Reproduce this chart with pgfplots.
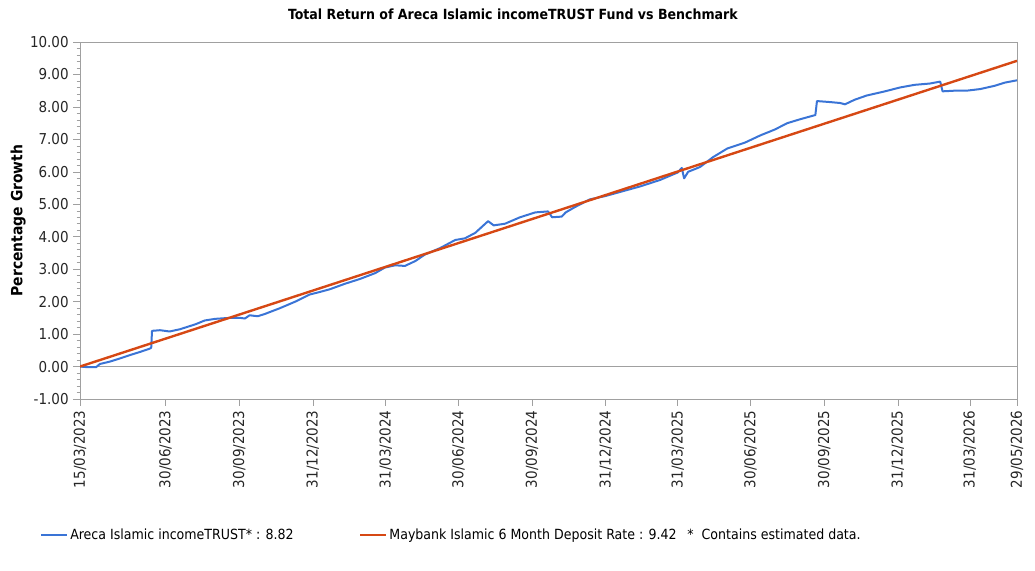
\documentclass[border=0pt]{standalone}
\usepackage{fontspec}
\setmainfont{DejaVu Sans Condensed}
\usepackage{pgfplots}
\pgfplotsset{compat=1.18}
\definecolor{fundblue}{RGB}{58,116,214}
\definecolor{benchred}{RGB}{214,72,20}
\definecolor{axgray}{RGB}{160,160,160}
\begin{document}
\begin{tikzpicture}
\path[use as bounding box] (0,0) rectangle (776.25pt,-428.25pt);
\begin{axis}[
  at={(60pt,-299.25pt)}, anchor=south west,
  scale only axis, width=702.75pt, height=267.75pt,
  xmin=0, xmax=1171, ymin=-1, ymax=10,
  axis line style={axgray},
  every tick/.style={axgray},
  tick align=outside,
  xtick pos=bottom, ytick pos=left,
  major tick length=5pt, minor tick length=2.5pt,
  ytick={-1,0,...,10},
  minor y tick num=4,
  xtick={0,107,199,291,382,473,565,657,747,838,930,1022,1112,1171},
  xticklabels={15/03/2023,30/06/2023,30/09/2023,31/12/2023,31/03/2024,30/06/2024,30/09/2024,31/12/2024,31/03/2025,30/06/2025,30/09/2025,31/12/2025,31/03/2026,29/05/2026},
  x tick label style={rotate=90, anchor=east, font=\fontsize{11.25}{13}\selectfont, text=black!85},
  y tick label style={font=\fontsize{11.25}{13}\selectfont, text=black!85},
  /pgf/number format/assume math mode=true,
  yticklabel={\pgfmathprintnumber[fixed,fixed zerofill,precision=2]{\tick}},
  title={Total Return of Areca Islamic incomeTRUST Fund vs Benchmark},
  every axis title/.style={at={(axis description cs:0.462,1.078)}, anchor=center, font=\bfseries\fontsize{10.5}{12}\selectfont},
  ylabel={Percentage Growth},
  every axis y label/.style={at={(axis description cs:-0.066,0.5)}, rotate=90, anchor=center, font=\bfseries\fontsize{11.6}{13}\selectfont},
  legend columns=-1,
  legend style={at={(axis description cs:-0.0427,-0.381)}, anchor=west, draw=none, fill=none,
    font=\fontsize{10.5}{12}\selectfont, inner sep=0pt,
    /tikz/every even column/.append style={column sep=47pt}},
  legend image code/.code={\draw[#1] (0pt,0pt) -- (19pt,0pt);},
]
\addplot[axgray, line width=0.8pt, forget plot] coordinates {(0,0) (1171,0)};
\addplot[fundblue, line width=1.5pt, line join=round] coordinates {
(0,0.00) (10,-0.02) (20,-0.02) (25,0.08) (37,0.15) (50,0.25) (62,0.35) (75,0.45) (87,0.55) (89,0.58)
(90,1.10) (100,1.12) (112,1.08) (125,1.15) (144,1.30) (156,1.42) (169,1.47) (187,1.50) (200,1.50)
(206,1.48) (212,1.58) (222,1.55) (231,1.62) (250,1.80) (269,2.00) (287,2.22) (300,2.30) (312,2.38)
(331,2.55) (350,2.70) (369,2.88) (381,3.05) (394,3.12) (406,3.10) (419,3.25) (431,3.45) (450,3.65)
(469,3.90) (481,3.95) (494,4.12) (502,4.30) (510,4.48) (517,4.35) (531,4.40) (550,4.60) (569,4.75)
(585,4.78) (590,4.60) (602,4.62) (607,4.75) (619,4.92) (637,5.15) (656,5.25) (675,5.38) (700,5.55)
(725,5.75) (747,5.98) (752,6.12) (755,5.80) (760,6.00) (775,6.15) (791,6.45) (809,6.72) (831,6.90)
(850,7.12) (868,7.30) (884,7.50) (900,7.62) (919,7.75) (921,8.18) (937,8.15) (950,8.12) (956,8.08)
(968,8.22) (983,8.35) (1006,8.48) (1025,8.60) (1043,8.68) (1062,8.72) (1075,8.78) (1078,8.48)
(1093,8.50) (1108,8.50) (1125,8.55) (1143,8.65) (1156,8.75) (1171,8.82)};
\addlegendentry{Areca Islamic incomeTRUST* : 8.82}
\addplot[benchred, line width=1.8pt] coordinates {(0,0) (1171,9.42)};
\addlegendentry{Maybank Islamic 6 Month Deposit Rate : 9.42\hspace{8pt}*\hspace{6pt}Contains estimated data.}
\end{axis}
\end{tikzpicture}
\end{document}
